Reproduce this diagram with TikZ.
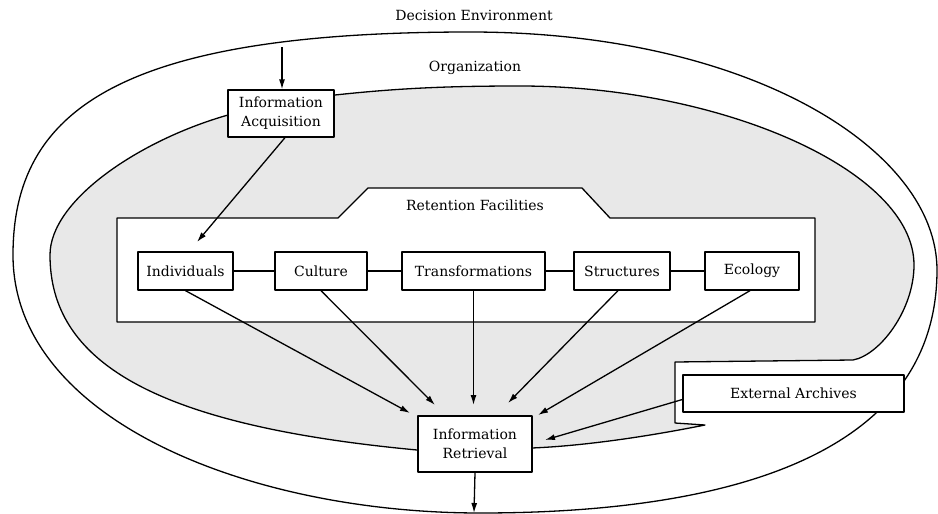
\documentclass[tikz,border=0pt]{standalone}
\usepackage{fontspec}
\setmainfont{DejaVu Serif}
\usetikzlibrary{arrows.meta}
\newcommand\dlbl{\fontsize{14}{19}\selectfont}
\begin{document}
\begin{tikzpicture}[x=1pt,y=-1pt, line width=1.3pt, line join=round,
  box/.style={draw, fill=white, inner sep=0pt, align=center, font=\dlbl},
  lab/.style={inner sep=0pt, font=\dlbl},
  arr/.style={-{Latex[length=10pt,width=6pt]}}]
\useasboundingbox (0,0) rectangle (938,514);
% Decision environment (outer)
\draw (470,32) .. controls (120,32) and (13,110) .. (13,255)
  .. controls (13,420) and (250,513) .. (480,513)
  .. controls (760,513) and (937,440) .. (937,270)
  .. controls (937,150) and (750,32) .. cycle;
% Organization (gray)
\filldraw[fill=gray!18] (281,105) -- (335,95) .. controls (400,88) and (450,86) .. (520,86)
  .. controls (720,86) and (914,170) .. (914,265)
  .. controls (914,310) and (880,355) .. (853,360)
  -- (675,362) -- (675,423) -- (705,425)
  .. controls (640,438) and (580,446) .. (532,448) -- (417,450)
  .. controls (150,425) and (50,360) .. (50,255)
  .. controls (50,200) and (140,140) .. (228,115) -- cycle;
% Retention facilities
\draw[fill=white] (117,218) -- (338,218) -- (368,188) -- (582,188) -- (610,218) -- (815,218) -- (815,322) -- (117,322) -- cycle;
% labels
\node[lab] (de) at (474,15) {Decision Environment};
\node[lab] (org) at (475,68) {Organization};
\node[lab] (rf) at (475,205) {Retention Facilities};
% boxes
\node[box, minimum width=106pt, minimum height=47pt] (acq) at (281,113.5) {Information\\Acquisition};
\node[box, minimum width=95pt, minimum height=38pt] (ind) at (185.5,271) {Individuals};
\node[box, minimum width=92pt, minimum height=38pt] (cul) at (321,271) {Culture};
\node[box, minimum width=143pt, minimum height=38pt] (tra) at (473.5,271) {Transformations};
\node[box, minimum width=96pt, minimum height=38pt] (str) at (622,271) {Structures};
\node[box, minimum width=94pt, minimum height=38pt] (eco) at (752,271) {Ecology};
\node[box, minimum width=114pt, minimum height=56pt] (ret) at (475,444) {Information\\Retrieval};
\node[box, minimum width=221pt, minimum height=37pt] (ea) at (793.5,393.5) {External Archives};
% links
\draw (ind) -- (cul);
\draw (cul) -- (tra);
\draw (tra) -- (str);
\draw (str) -- (eco);
% arrows
\coordinate (top) at (282,47);
\coordinate (e0) at (197,242);
\coordinate (e1) at (410,413);
\coordinate (e2) at (435,405);
\coordinate (e3) at (473.5,405);
\coordinate (e4) at (508,403);
\coordinate (e5) at (538,415);
\coordinate (e6) at (545,440);
\coordinate (bot) at (474,513);
\draw[arr] (top) -- (acq.north -| top);
\draw[arr] ([xshift=4pt]acq.south) -- (e0);
\draw[arr] (ind.south) -- (e1);
\draw[arr] (cul.south) -- (e2);
\draw[arr] (tra.south) -- (e3);
\draw[arr] ([xshift=-4pt]str.south) -- (e4);
\draw[arr] ([xshift=-2pt]eco.south) -- (e5);
\draw[arr] ([yshift=-6pt]ea.west) -- (e6);
\draw[arr] (ret.south) -- (bot);
\end{tikzpicture}
\end{document}
